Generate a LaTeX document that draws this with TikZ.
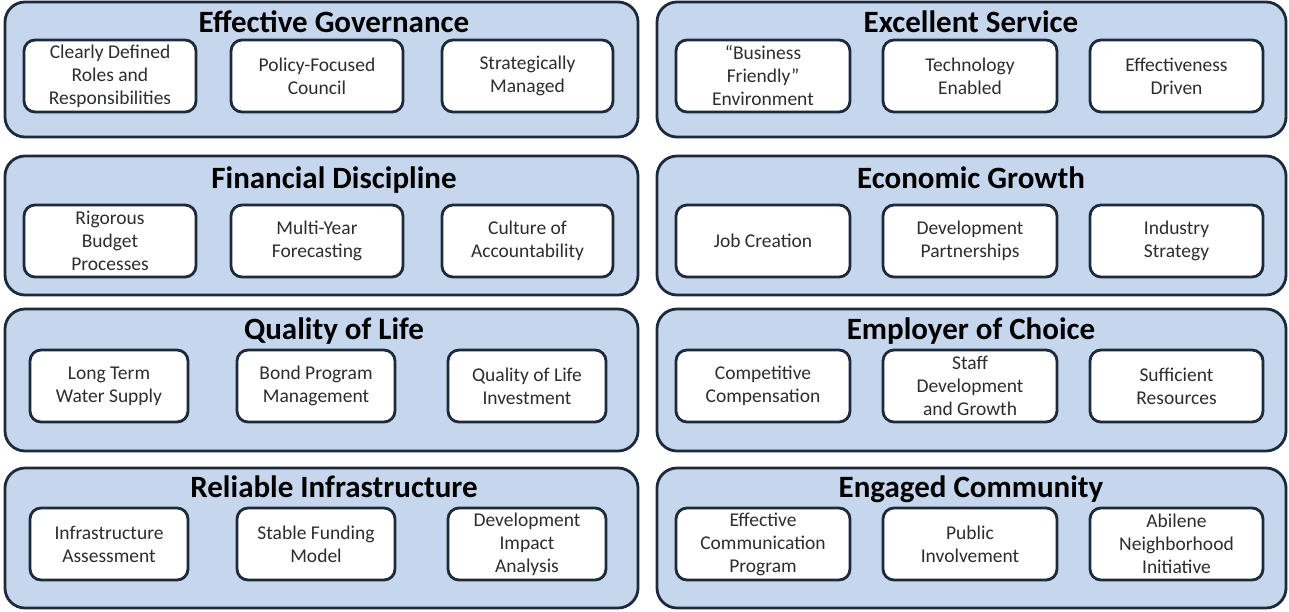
\documentclass[tikz,border=0pt]{standalone}
\usepackage{fontspec}
\setmainfont{Carlito}
\definecolor{navy}{RGB}{28,42,60}
\definecolor{panelblue}{RGB}{198,215,237}
\definecolor{txt}{RGB}{45,45,45}
\tikzset{
  panel/.style={draw=navy, line width=2.8pt, fill=panelblue, rounded corners=20pt},
  subbox/.style={draw=navy, line width=2.8pt, fill=white, rounded corners=11pt, align=center,
     inner sep=0pt, font=\fontsize{19.5}{23}\selectfont, text=txt},
  ttl/.style={anchor=base, inner sep=0pt, font=\fontsize{31}{33}\selectfont\bfseries, text=black}
}
\newcommand{\mypanel}[8]{% name x1 y1 x2 y2 title titlex baseline
  \node[panel, minimum width={(#4-#2)*1pt}, minimum height={(#5-#3)*1pt}] (#1) at ({(#2+#4)/2},{(#3+#5)/2}) {};
  \node[ttl] (#1t) at (#7,#8) {#6};
}
\newcommand{\mysub}[6]{% name x1 y1 x2 y2 text
  \node[subbox, minimum width={(#4-#2)*1pt}, minimum height={(#5-#3)*1pt}] (#1) at ({(#2+#4)/2},{(#3+#5)/2}) {#6};
}
\begin{document}
\begin{tikzpicture}[x=1pt,y=-1pt]
\useasboundingbox (0,0) rectangle (1289,611);
% left column
\mypanel{pa}{5}{2}{638}{137}{Effective Governance}{334}{32}
\mysub{a1}{24}{40}{196}{112}{Clearly Defined\\Roles and\\Responsibilities}
\mysub{a2}{231}{40}{403}{112}{Policy-Focused\\Council}
\mysub{a3}{442}{40}{613}{112}{Strategically\\Managed}

\mypanel{pb}{5}{156}{638}{295}{Financial Discipline}{334}{188}
\mysub{b1}{24}{205}{196}{277}{Rigorous\\Budget\\Processes}
\mysub{b2}{231}{205}{403}{277}{Multi-Year\\Forecasting}
\mysub{b3}{442}{205}{613}{277}{Culture of\\Accountability}

\mypanel{pc}{5}{309}{638}{451}{Quality of Life}{334}{339}
\mysub{c1}{30}{350}{188}{422}{Long Term\\Water Supply}
\mysub{c2}{237}{350}{395}{422}{Bond Program\\Management}
\mysub{c3}{448}{350}{606}{422}{Quality of Life\\Investment}

\mypanel{pd}{5}{468}{638}{608}{Reliable Infrastructure}{334}{497}
\mysub{d1}{30}{508}{188}{580}{Infrastructure\\Assessment}
\mysub{d2}{237}{508}{395}{580}{Stable Funding\\Model}
\mysub{d3}{448}{508}{606}{580}{Development\\Impact\\Analysis}
% right column
\mypanel{pe}{657}{2}{1286}{137}{Excellent Service}{971}{32}
\mysub{e1}{676}{40}{850}{112}{``Business\\Friendly''\\Environment}
\mysub{e2}{883}{40}{1057}{112}{Technology\\Enabled}
\mysub{e3}{1090}{40}{1263}{112}{Effectiveness\\Driven}

\mypanel{pf}{657}{156}{1286}{295}{Economic Growth}{971}{188}
\mysub{f1}{676}{205}{850}{277}{Job Creation}
\mysub{f2}{883}{205}{1057}{277}{Development\\Partnerships}
\mysub{f3}{1090}{205}{1263}{277}{Industry\\Strategy}

\mypanel{pg}{657}{309}{1286}{451}{Employer of Choice}{971}{339}
\mysub{g1}{676}{350}{850}{422}{Competitive\\Compensation}
\mysub{g2}{883}{350}{1057}{422}{Staff\\Development\\and Growth}
\mysub{g3}{1090}{350}{1263}{422}{Sufficient\\Resources}

\mypanel{ph}{657}{468}{1286}{608}{Engaged Community}{971}{497}
\mysub{h1}{676}{508}{850}{580}{Effective\\Communication\\Program}
\mysub{h2}{883}{508}{1057}{580}{Public\\Involvement}
\mysub{h3}{1090}{508}{1263}{580}{Abilene\\Neighborhood\\Initiative}
\end{tikzpicture}
\end{document}
